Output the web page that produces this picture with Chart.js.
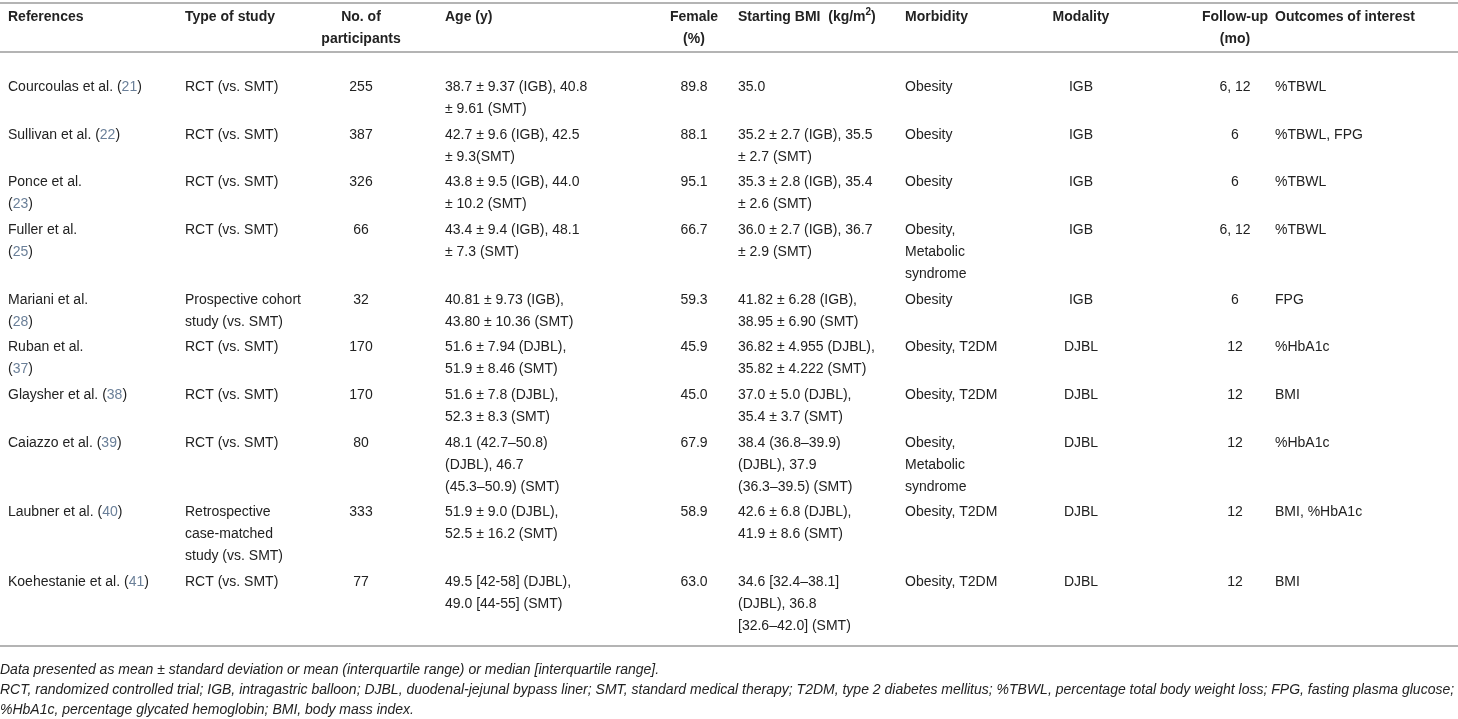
<!DOCTYPE html>
<html>
<head>
<meta charset="utf-8">
<script src="https://cdn.jsdelivr.net/npm/chart.js@4.4.1/dist/chart.umd.min.js"></script>
<style>
  html, body { margin: 0; padding: 0; background: #fff; }
  #wrap { width: 1458px; height: 719px; position: relative; }
</style>
</head>
<body>
<div id="wrap"><canvas id="table"></canvas></div>
<script>
// table content, one array per column. "{..}" = citation number, "^2" = superscript
var columnHeaders = ["References", "Type of study", "No. of\nparticipants", "Age (y)", "Female\n(%)",
  "Starting BMI  (kg/m^2)", "Morbidity", "Modality", "Follow-up\n(mo)", "Outcomes of interest"];

var references = ["Courcoulas et al. ({21})", "Sullivan et al. ({22})", "Ponce et al.\n({23})", "Fuller et al.\n({25})",
  "Mariani et al.\n({28})", "Ruban et al.\n({37})", "Glaysher et al. ({38})", "Caiazzo et al. ({39})",
  "Laubner et al. ({40})", "Koehestanie et al. ({41})"];

var studyTypes = ["RCT (vs. SMT)", "RCT (vs. SMT)", "RCT (vs. SMT)", "RCT (vs. SMT)",
  "Prospective cohort\nstudy (vs. SMT)", "RCT (vs. SMT)", "RCT (vs. SMT)", "RCT (vs. SMT)",
  "Retrospective\ncase-matched\nstudy (vs. SMT)", "RCT (vs. SMT)"];

var participants = [255, 387, 326, 66, 32, 170, 170, 80, 333, 77];

var ages = ["38.7 \u00b1 9.37 (IGB), 40.8\n\u00b1 9.61 (SMT)", "42.7 \u00b1 9.6 (IGB), 42.5\n\u00b1 9.3(SMT)",
  "43.8 \u00b1 9.5 (IGB), 44.0\n\u00b1 10.2 (SMT)", "43.4 \u00b1 9.4 (IGB), 48.1\n\u00b1 7.3 (SMT)",
  "40.81 \u00b1 9.73 (IGB),\n43.80 \u00b1 10.36 (SMT)", "51.6 \u00b1 7.94 (DJBL),\n51.9 \u00b1 8.46 (SMT)",
  "51.6 \u00b1 7.8 (DJBL),\n52.3 \u00b1 8.3 (SMT)", "48.1 (42.7\u201350.8)\n(DJBL), 46.7\n(45.3\u201350.9) (SMT)",
  "51.9 \u00b1 9.0 (DJBL),\n52.5 \u00b1 16.2 (SMT)", "49.5 [42-58] (DJBL),\n49.0 [44-55] (SMT)"];

var femalePct = ["89.8", "88.1", "95.1", "66.7", "59.3", "45.9", "45.0", "67.9", "58.9", "63.0"];

var startingBmi = ["35.0", "35.2 \u00b1 2.7 (IGB), 35.5\n\u00b1 2.7 (SMT)", "35.3 \u00b1 2.8 (IGB), 35.4\n\u00b1 2.6 (SMT)",
  "36.0 \u00b1 2.7 (IGB), 36.7\n\u00b1 2.9 (SMT)", "41.82 \u00b1 6.28 (IGB),\n38.95 \u00b1 6.90 (SMT)",
  "36.82 \u00b1 4.955 (DJBL),\n35.82 \u00b1 4.222 (SMT)", "37.0 \u00b1 5.0 (DJBL),\n35.4 \u00b1 3.7 (SMT)",
  "38.4 (36.8\u201339.9)\n(DJBL), 37.9\n(36.3\u201339.5) (SMT)", "42.6 \u00b1 6.8 (DJBL),\n41.9 \u00b1 8.6 (SMT)",
  "34.6 [32.4\u201338.1]\n(DJBL), 36.8\n[32.6\u201342.0] (SMT)"];

var morbidity = ["Obesity", "Obesity", "Obesity", "Obesity,\nMetabolic\nsyndrome", "Obesity", "Obesity, T2DM",
  "Obesity, T2DM", "Obesity,\nMetabolic\nsyndrome", "Obesity, T2DM", "Obesity, T2DM"];

var modality = ["IGB", "IGB", "IGB", "IGB", "IGB", "DJBL", "DJBL", "DJBL", "DJBL", "DJBL"];

var followUp = ["6, 12", "6", "6", "6, 12", "6", "12", "12", "12", "12", "12"];

var outcomes = ["%TBWL", "%TBWL, FPG", "%TBWL", "%TBWL", "FPG", "%HbA1c", "BMI", "%HbA1c", "BMI, %HbA1c", "BMI"];

var footnotes = [
  "Data presented as mean \u00b1 standard deviation or mean (interquartile range) or median [interquartile range].",
  "RCT, randomized controlled trial; IGB, intragastric balloon; DJBL, duodenal-jejunal bypass liner; SMT, standard medical therapy; T2DM, type 2 diabetes mellitus; %TBWL, percentage total body weight loss; FPG, fasting plasma glucose;",
  "%HbA1c, percentage glycated hemoglobin; BMI, body mass index."
];

var columns = [references, studyTypes, participants, ages, femalePct, startingBmi, morbidity, modality, followUp, outcomes];

// layout (in scale units = pixels of the 1458x719 page)
var colAnchor = [8, 185, 361, 445, 694, 738, 905, 1081, 1235, 1275];
var colAlign = ["left", "left", "center", "left", "center", "left", "left", "center", "center", "left"];
var lineH = 22;
var rowPad = 3.67;
var layout = { topRule: 3, headFirst: 17, headRule: 52, bodyFirst: 87, bottomGap: 20, noteGap: 24, noteLineH: 20 };

var FONT = "'Liberation Sans', Arial, Helvetica, sans-serif";
var TEXT = "#222222";
var CITE = "#6a7f98";
var RULE = "#b4b4b4";

function splitCell(v) {
  return String(v).split("\n");
}

function segments(line) {
  var parts = line.split(/(\{[^}]*\}|\^\d+)/);
  var out = [];
  parts.forEach(function (p) {
    if (!p) return;
    if (p.charAt(0) === "{") out.push({ t: p.slice(1, -1), cite: true });
    else if (p.charAt(0) === "^") out.push({ t: p.slice(1), sup: true });
    else out.push({ t: p });
  });
  return out;
}

function drawLine(ctx, line, px, py, align, weight, size) {
  var segs = segments(line);
  var base = weight + " " + size + "px " + FONT;
  var sup = weight + " " + Math.round(size * 0.7) + "px " + FONT;
  var total = 0;
  segs.forEach(function (s) {
    ctx.font = s.sup ? sup : base;
    s.w = ctx.measureText(s.t).width;
    total += s.w;
  });
  var cx = align === "center" ? px - total / 2 : px;
  segs.forEach(function (s) {
    ctx.font = s.sup ? sup : base;
    ctx.fillStyle = s.cite ? CITE : TEXT;
    ctx.fillText(s.t, cx, s.sup ? py - size * 0.35 : py);
    cx += s.w;
  });
}

var tablePlugin = {
  id: "tableText",
  afterDraw: function (chart) {
    var ctx = chart.ctx, xs = chart.scales.x, ys = chart.scales.y;
    var left = xs.getPixelForValue(0), right = xs.getPixelForValue(1458);
    ctx.save();
    ctx.textBaseline = "middle";
    ctx.textAlign = "left";

    function rule(v) {
      var py = Math.round(ys.getPixelForValue(v));
      ctx.strokeStyle = RULE;
      ctx.lineWidth = 2;
      ctx.beginPath();
      ctx.moveTo(left, py);
      ctx.lineTo(right, py);
      ctx.stroke();
    }

    rule(layout.topRule);
    columnHeaders.forEach(function (h, c) {
      splitCell(h).forEach(function (ln, i) {
        drawLine(ctx, ln, xs.getPixelForValue(colAnchor[c]), ys.getPixelForValue(layout.headFirst + i * lineH), colAlign[c], "bold", 14);
      });
    });
    rule(layout.headRule);

    var rowY = layout.bodyFirst, lastLine = rowY;
    for (var r = 0; r < references.length; r++) {
      var n = 1;
      columns.forEach(function (col, c) {
        var lines = splitCell(col[r]);
        n = Math.max(n, lines.length);
        lines.forEach(function (ln, i) {
          drawLine(ctx, ln, xs.getPixelForValue(colAnchor[c]), ys.getPixelForValue(rowY + i * lineH), colAlign[c], "normal", 14);
        });
      });
      lastLine = rowY + (n - 1) * lineH;
      rowY += n * lineH + rowPad;
    }
    var bottom = lastLine + layout.bottomGap;
    rule(bottom);

    ctx.fillStyle = TEXT;
    ctx.font = "italic 14px " + FONT;
    footnotes.forEach(function (f, i) {
      ctx.fillText(f, xs.getPixelForValue(0), ys.getPixelForValue(bottom + layout.noteGap + i * layout.noteLineH));
    });
    ctx.restore();
  }
};

new Chart(document.getElementById("table").getContext("2d"), {
  type: "scatter",
  data: { datasets: [{ data: [], pointRadius: 0 }] },
  options: {
    responsive: true,
    maintainAspectRatio: false,
    animation: false,
    events: [],
    layout: { padding: 0 },
    plugins: { legend: { display: false }, tooltip: { enabled: false } },
    scales: {
      x: { type: "linear", min: 0, max: 1458, display: false },
      y: { type: "linear", min: 0, max: 719, reverse: true, display: false }
    }
  },
  plugins: [tablePlugin]
});
</script>
</body>
</html>
